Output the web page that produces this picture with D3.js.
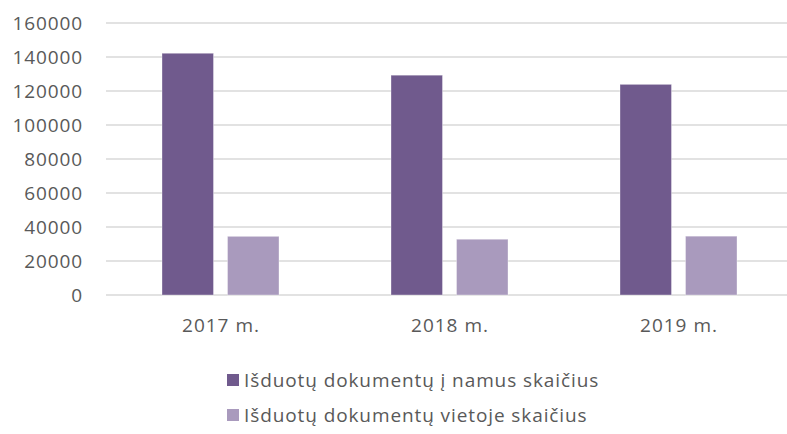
<!DOCTYPE html>
<html>
<head>
<meta charset="utf-8">
<script src="https://cdn.jsdelivr.net/npm/d3@7"></script>
<style>
  html, body { margin: 0; padding: 0; background: #fff; }
  svg { display: block; }
  text { font-family: "Open Sans", sans-serif; fill: #595959; }
</style>
</head>
<body>
<svg id="chart" width="787" height="434"></svg>
<script>
const categories = ["2017 m.", "2018 m.", "2019 m."];
const seriesNames = ["Išduotų dokumentų į namus skaičius", "Išduotų dokumentų vietoje skaičius"];
const seriesHome = [142200, 129300, 123900];
const seriesOnSite = [34500, 32800, 34600];
const yTicks = [0, 20000, 40000, 60000, 80000, 100000, 120000, 140000, 160000];
const colors = ["#705A8D", "#A99ABD"];

const svg = d3.select("#chart");
const plot = { left: 106, right: 793, top: 23, bottom: 295 };

const y = d3.scaleLinear().domain([0, 160000]).range([plot.bottom, plot.top]);
const x0 = d3.scaleBand().domain(categories).range([plot.left, plot.right]).padding(0);
const x1 = d3.scaleBand().domain([0, 1]).range([56, 173]).paddingInner(0.2137).paddingOuter(0);

// gridlines
svg.append("g").selectAll("line").data(yTicks).join("line")
  .attr("x1", plot.left).attr("x2", plot.right)
  .attr("y1", d => y(d)).attr("y2", d => y(d))
  .attr("stroke", "#D9D9D9").attr("stroke-width", 1.3);

// y axis labels
const yAxis = d3.axisLeft(y).tickValues(yTicks).tickSize(0).tickPadding(0).tickFormat(d3.format("d"));
const yg = svg.append("g").attr("transform", "translate(83,0)").call(yAxis);
yg.select(".domain").remove();
yg.selectAll("text").style("font-family", "'Open Sans', sans-serif").style("font-size", "19px")
  .style("letter-spacing", "0.9px").attr("fill", "#595959");

// bars
const data = categories.map((c, i) => ({ cat: c, vals: [seriesHome[i], seriesOnSite[i]] }));
const groups = svg.append("g").selectAll("g").data(data).join("g")
  .attr("transform", d => `translate(${x0(d.cat)},0)`);
groups.selectAll("rect").data(d => d.vals.map((v, k) => ({ k, v }))).join("rect")
  .attr("x", d => x1(d.k)).attr("width", x1.bandwidth())
  .attr("y", d => y(d.v)).attr("height", d => y(0) - y(d.v))
  .attr("fill", d => colors[d.k])
  .attr("stroke", "#ffffff").attr("stroke-opacity", 0.35).attr("stroke-width", 1);

// x axis labels
const xAxis = d3.axisBottom(x0).tickSize(0).tickPadding(0);
const xg = svg.append("g").attr("transform", "translate(0.5,325)").call(xAxis);
xg.select(".domain").remove();
xg.selectAll("text").attr("dy", "0.35em").style("font-family", "'Open Sans', sans-serif").style("font-size", "19px")
  .style("letter-spacing", "1px").attr("fill", "#595959");

// legend
const legendRows = [380, 415];
const lg = svg.append("g").selectAll("g").data(seriesNames).join("g")
  .attr("transform", (d, i) => `translate(227,${legendRows[i]})`);
lg.append("rect").attr("x", 0).attr("y", -6).attr("width", 12).attr("height", 12)
  .attr("fill", (d, i) => colors[i]);
lg.append("text").attr("x", 17).attr("dy", "0.35em")
  .style("font-size", "19px").style("letter-spacing", "0.9px")
  .text(d => d);
</script>
</body>
</html>
